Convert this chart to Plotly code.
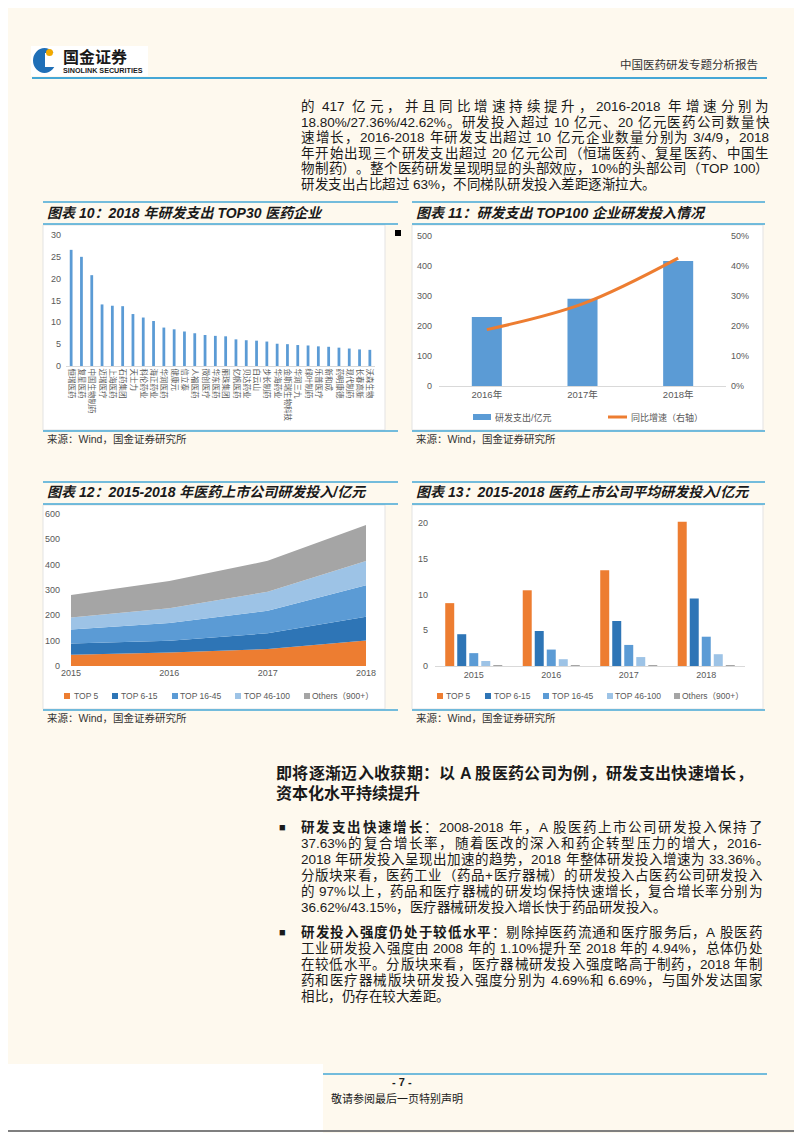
import plotly.graph_objects as go

W, H = 802, 1133
OFF = 8  # the page body margin shifts the figure by 8px
FONT = "Liberation Sans, Noto Sans CJK SC, sans-serif"
BLUE_LINE = "#45A7D6"
CREAM = "#FEF9EE"
AX = "#595959"

# chart 10: top 30 companies by 2018 R&D spend (亿元)
top30_names = ["恒瑞医药", "复星医药", "中国生物制药", "迈瑞医疗", "上海医药", "石药集团", "天士力", "科伦药业",
               "海正药业", "华润医药", "健康元", "信立泰", "人福医药", "微创医疗", "华东医药", "丽珠集团",
               "亿帆医药", "贝达药业", "白云山", "步长制药", "华海药业", "金斯瑞生物科技", "华润三九", "绿叶制药",
               "乐普医疗", "新和成", "药明康德", "现代制药", "长春高新", "沃森生物"]
top30_values = [26.6, 25.0, 20.8, 14.1, 13.8, 13.7, 11.9, 11.1, 10.3, 8.8, 8.4, 7.9, 7.5, 7.1, 6.9, 6.8,
                6.1, 5.9, 5.8, 5.6, 5.1, 5.0, 4.8, 4.7, 4.5, 4.4, 4.2, 4.0, 3.8, 3.7]

# chart 11: TOP100 R&D spend and yoy growth
top100_years = ["2016年", "2017年", "2018年"]
top100_spend = [230, 291, 417]
top100_growth = [0.188, 0.2736, 0.4262]

# chart 12 / 13: listed companies R&D by tier
tier_years = [2015, 2016, 2017, 2018]
tier_year_labels = ["2015", "2016", "2017", "2018"]
tier_names = ["TOP 5", "TOP 6-15", "TOP 16-45", "TOP 46-100", "Others（900+）"]
tier_colors = ["#ED7D31", "#2E75B6", "#5B9BD5", "#9DC3E6", "#A5A5A5"]
tier_total = [
    [44, 53, 67, 101],
    [45, 47, 62, 93],
    [55, 70, 89, 125],
    [47, 58, 75, 95],
    [89, 108, 122, 143],
]
tier_avg = [
    [8.8, 10.6, 13.4, 20.2],
    [4.45, 4.9, 6.3, 9.45],
    [1.8, 2.3, 2.95, 4.1],
    [0.7, 0.95, 1.25, 1.65],
    [0.05, 0.1, 0.1, 0.12],
]

para_top = [
    "的 417 亿元，并且同比增速持续提升，2016-2018 年增速分别为",
    "18.80%/27.36%/42.62%。研发投入超过 10 亿元、20 亿元医药公司数量快",
    "速增长，2016-2018 年研发支出超过 10 亿元企业数量分别为 3/4/9，2018",
    "年开始出现三个研发支出超过 20 亿元公司（恒瑞医药、复星医药、中国生",
    "物制药）。整个医药研发呈现明显的头部效应，10%的头部公司（TOP 100）",
    "研发支出占比超过 63%，不同梯队研发投入差距逐渐拉大。",
]
bullet1_head = "研发支出快速增长"
bullet1 = [
    "：2008-2018 年，A 股医药上市公司研发投入保持了",
    "37.63%的复合增长率，随着医改的深入和药企转型压力的增大，2016-",
    "2018 年研发投入呈现出加速的趋势，2018 年整体研发投入增速为 33.36%。",
    "分版块来看，医药工业（药品+医疗器械）的研发投入占医药公司研发投入",
    "的 97%以上，药品和医疗器械的研发均保持快速增长，复合增长率分别为",
    "36.62%/43.15%，医疗器械研发投入增长快于药品研发投入。",
]
bullet2_head = "研发投入强度仍处于较低水平"
bullet2 = [
    "：剔除掉医药流通和医疗服务后，A 股医药",
    "工业研发投入强度由 2008 年的 1.10%提升至 2018 年的 4.94%，总体仍处",
    "在较低水平。分版块来看，医疗器械研发投入强度略高于制药，2018 年制",
    "药和医疗器械版块研发投入强度分别为 4.69%和 6.69%，与国外发达国家",
    "相比，仍存在较大差距。",
]


def X(px):
    return (px - OFF) / W


def Y(py):
    return 1 - (py - OFF) / H


shapes = []
annotations = []


def rect(x0, y0, x1, y1, fill, line=None, lw=0, layer="below"):
    shapes.append(dict(type="rect", xref="paper", yref="paper", x0=X(x0), x1=X(x1), y0=Y(y0), y1=Y(y1),
                       fillcolor=fill, line=dict(color=line or fill, width=lw), layer=layer))


def hline(x0, x1, y, color=BLUE_LINE, width=1.5):
    shapes.append(dict(type="line", xref="paper", yref="paper", x0=X(x0), x1=X(x1), y0=Y(y), y1=Y(y),
                       line=dict(color=color, width=width), layer="below"))


def text(x, y, s, size=13, color="#1a1a1a", anchor="left", family=FONT):
    annotations.append(dict(xref="paper", yref="paper", x=X(x), y=Y(y), text=s, showarrow=False,
                            xanchor=anchor, yanchor="middle", font=dict(size=size, color=color, family=family)))


# rough glyph widths (em) for the latin part of the text
LATIN_W = {".": 0.278, "%": 0.889, "/": 0.278, "-": 0.333, "+": 0.584, "T": 0.611, "O": 0.778,
           "P": 0.667, "A": 0.667}


def tok_width(tok, size):
    w = 0
    for c in tok:
        if ord(c) > 0x2E80:
            w += size
        else:
            w += LATIN_W.get(c, 0.556) * size
    return w


def tokens(line):
    # (token, preceded_by_space)
    out, cur, sp = [], "", False
    for c in line:
        if c == " ":
            if cur:
                out.append((cur, sp))
                cur = ""
            sp = True
        elif ord(c) > 0x2E80:
            if cur:
                out.append((cur, sp))
                cur, sp = "", False
            out.append((c, sp))
            sp = False
        else:
            if not cur and out and not sp:
                sp = False
            cur += c
    if cur:
        out.append((cur, sp))
    return out


def justified(x0, x1, y, line, size=13.5, head="", justify=True, bold=False):
    toks = [(t, True, False) for t in head] + [(t, bold, sp) for t, sp in tokens(line)]
    widths = [tok_width(t, size) * (1.03 if b else 1) for t, b, _ in toks]
    space = 0.278 * size
    gaps = [space if toks[i + 1][2] else 0 for i in range(len(toks) - 1)]
    natural = sum(widths) + sum(gaps)
    extra = (x1 - x0 - natural) / max(len(gaps), 1) if justify else 0
    x = x0
    for i, (t, b, _) in enumerate(toks):
        text(x, y, f"<b>{t}</b>" if b else t, size=size)
        x += widths[i] + (gaps[i] + extra if i < len(gaps) else 0)


# page background pieces
rect(0, 1064, 323, 1141, "white")
shapes.append(dict(type="line", xref="paper", yref="paper", x0=X(800), x1=X(800), y0=Y(0), y1=Y(1131),
                   line=dict(color="#7F7F7F", width=2), layer="below"))
shapes.append(dict(type="line", xref="paper", yref="paper", x0=X(0), x1=X(800), y0=Y(1131), y1=Y(1131),
                   line=dict(color="#7F7F7F", width=2), layer="below"))

# header / logo
rect(31, 46, 148, 76, "white")
shapes.append(dict(type="circle", xref="paper", yref="paper", x0=X(33), x1=X(56), y0=Y(73), y1=Y(48),
                   fillcolor="#1F6FB7", line=dict(width=0), layer="below"))
rect(45, 53, 57, 67, "white")
shapes.append(dict(type="circle", xref="paper", yref="paper", x0=X(46), x1=X(53), y0=Y(56), y1=Y(49),
                   fillcolor="#F2A900", line=dict(width=0), layer="below"))
text(61, 57, "<b>国金证券</b>", size=16)
text(61, 70, "<b>SINOLINK SECURITIES</b>", size=7.2)
text(760, 65, "中国医药研发专题分析报告", size=11.5, color="#333333", anchor="right")
hline(32, 767, 78, width=2)

# top paragraph
for i, line in enumerate(para_top):
    justified(299, 767, 107 + i * 15.5, line, justify=i < len(para_top) - 1)

# chart frames
for (x0, x1, top) in [(43, 398, 202), (412, 765, 202), (43, 398, 482), (412, 765, 482)]:
    bottom = top + 229 if top == 202 else top + 228
    rect(x0, top + 23, x1 - 13 if x0 == 43 else x1 - 2, bottom - 1, "white", line="#E3E3E3", lw=1)
    hline(x0, x1, top)
    hline(x0, x1, top + 22)
    hline(x0, x1, bottom)
    text(x0 + 2, bottom + 8, "来源：Wind，国金证券研究所", size=10.5, color="#333333")

text(45, 213, "<b><i>图表 10：2018 年研发支出 TOP30 医药企业</i></b>", size=14)
text(414, 213, "<b><i>图表 11：研发支出 TOP100 企业研发投入情况</i></b>", size=14)
text(45, 492, "<b><i>图表 12：2015-2018 年医药上市公司研发投入/亿元</i></b>", size=14)
text(414, 492, "<b><i>图表 13：2015-2018 医药上市公司平均研发投入/亿元</i></b>", size=14)
rect(395, 230, 401, 236, "black")

# manual legends
rect(473, 414, 491, 420, "#5B9BD5", layer="above")
text(493, 417, "研发支出/亿元", size=9, color=AX)
shapes.append(dict(type="line", xref="paper", yref="paper", x0=X(608), x1=X(627), y0=Y(417), y1=Y(417),
                   line=dict(color="#ED7D31", width=3)))
text(629, 417, "同比增速（右轴）", size=9, color=AX)

for base_y, sq_x, tx_x in [(696, [64, 112, 172, 235, 304], [72, 119, 178, 242, 310]),
                           (696, [437, 485, 543, 607, 674], [444, 492, 550, 613, 680])]:
    for name, color, sx, tx in zip(tier_names, tier_colors, sq_x, tx_x):
        rect(sx, base_y - 3, sx + 6, base_y + 3, color, layer="above")
        text(tx, base_y, name, size=8.5, color=AX)

# section heading and bullets
justified(274, 751, 773, "即将逐渐迈入收获期：以 A 股医药公司为例，研发支出快速增长，", size=16, bold=True)
text(274, 793, "<b>资本化水平持续提升</b>", size=16)

text(277, 827, "■", size=11)
for i, line in enumerate(bullet1):
    last = i == len(bullet1) - 1
    right = 767 if i == 2 else 760
    justified(299, right, 827 + i * 16, line, head=bullet1_head if i == 0 else "", justify=not last)
text(277, 932, "■", size=11)
for i, line in enumerate(bullet2):
    last = i == len(bullet2) - 1
    justified(299, 760, 932 + i * 16, line, head=bullet2_head if i == 0 else "", justify=not last)

# footer
hline(323, 767, 1074, width=1.5)
text(402, 1082, "<b>- 7 -</b>", size=11, anchor="center")
text(329, 1098, "敬请参阅最后一页特别声明", size=11)

fig = go.Figure()

# chart 10
fig.add_trace(go.Bar(x=top30_names, y=top30_values, width=0.27, marker=dict(color="#5B9BD5", line=dict(width=0)),
                     xaxis="x", yaxis="y", showlegend=False))

# chart 11
fig.add_trace(go.Bar(x=top100_years, y=top100_spend, width=0.314, marker=dict(color="#5B9BD5", line=dict(width=0)),
                     xaxis="x2", yaxis="y2", showlegend=False))
fig.add_trace(go.Scatter(x=top100_years, y=top100_growth, mode="lines",
                         line=dict(color="#ED7D31", width=3, shape="spline"),
                         xaxis="x2", yaxis="y3", showlegend=False))

# chart 12
for name, color, vals in zip(tier_names, tier_colors, tier_total):
    fig.add_trace(go.Scatter(x=tier_years, y=vals, mode="lines", stackgroup="tiers", line=dict(width=0, color=color),
                             fillcolor=color, xaxis="x3", yaxis="y4", showlegend=False, name=name))

# chart 13
bw = 0.116
shifts = [-0.31, -0.155, 0, 0.155, 0.31]
for name, color, vals, s in zip(tier_names, tier_colors, tier_avg, shifts):
    fig.add_trace(go.Bar(x=tier_year_labels, y=vals, width=bw, offset=s - bw / 2,
                         marker=dict(color=color, line=dict(width=0)),
                         xaxis="x4", yaxis="y5", showlegend=False, name=name))

tick_font = dict(size=9, color=AX, family=FONT)
fig.update_layout(
    width=W, height=H, margin=dict(l=0, r=0, t=0, b=0, pad=0, autoexpand=False),
    paper_bgcolor=CREAM, plot_bgcolor="rgba(0,0,0,0)", barmode="overlay",
    font=dict(family=FONT), showlegend=False, shapes=shapes, annotations=annotations,
    xaxis=dict(domain=[X(66), X(375)], anchor="y", type="category", range=[-0.5, 29.5], tickangle=90,
               tickfont=dict(size=7.5, color=AX, family=FONT), showline=True, linecolor="#D9D9D9",
               ticks="", automargin=False),
    yaxis=dict(domain=[Y(366), Y(235)], anchor="x", range=[0, 30], dtick=5, showgrid=False, zeroline=False,
               tickfont=tick_font, ticklabelstandoff=4, automargin=False),
    xaxis2=dict(domain=[X(439), X(726)], anchor="y2", type="category", range=[-0.5, 2.5],
                tickfont=dict(size=9.5, color=AX, family=FONT), showline=True, linecolor="#D9D9D9", ticks="",
                automargin=False),
    yaxis2=dict(domain=[Y(386), Y(236)], anchor="x2", range=[0, 500], dtick=100, showgrid=False,
                zeroline=False, tickfont=tick_font, ticklabelstandoff=6, automargin=False),
    yaxis3=dict(overlaying="y2", anchor="x2", side="right", range=[0, 0.5], dtick=0.1, tickformat=".0%",
                showgrid=False, zeroline=False, tickfont=tick_font, ticklabelstandoff=4, automargin=False),
    xaxis3=dict(domain=[X(71), X(366)], anchor="y4", range=[2015, 2018], tickvals=tier_years,
                ticktext=tier_year_labels, showgrid=False, zeroline=False, tickfont=tick_font, ticks="",
                automargin=False),
    yaxis4=dict(domain=[Y(666), Y(514)], anchor="x3", range=[0, 600], dtick=100, showgrid=False,
                zeroline=False, tickfont=tick_font, ticklabelstandoff=10, automargin=False),
    xaxis4=dict(domain=[X(435), X(745)], anchor="y5", type="category", range=[-0.5, 3.5],
                tickfont=tick_font, showline=True, linecolor="#D9D9D9", ticks="", automargin=False),
    yaxis5=dict(domain=[Y(666), Y(516)], anchor="x4", range=[0, 21], tickvals=[0, 5, 10, 15, 20],
                showgrid=False, zeroline=False, tickfont=tick_font, ticklabelstandoff=6, automargin=False),
)

fig.write_html("out.html")
